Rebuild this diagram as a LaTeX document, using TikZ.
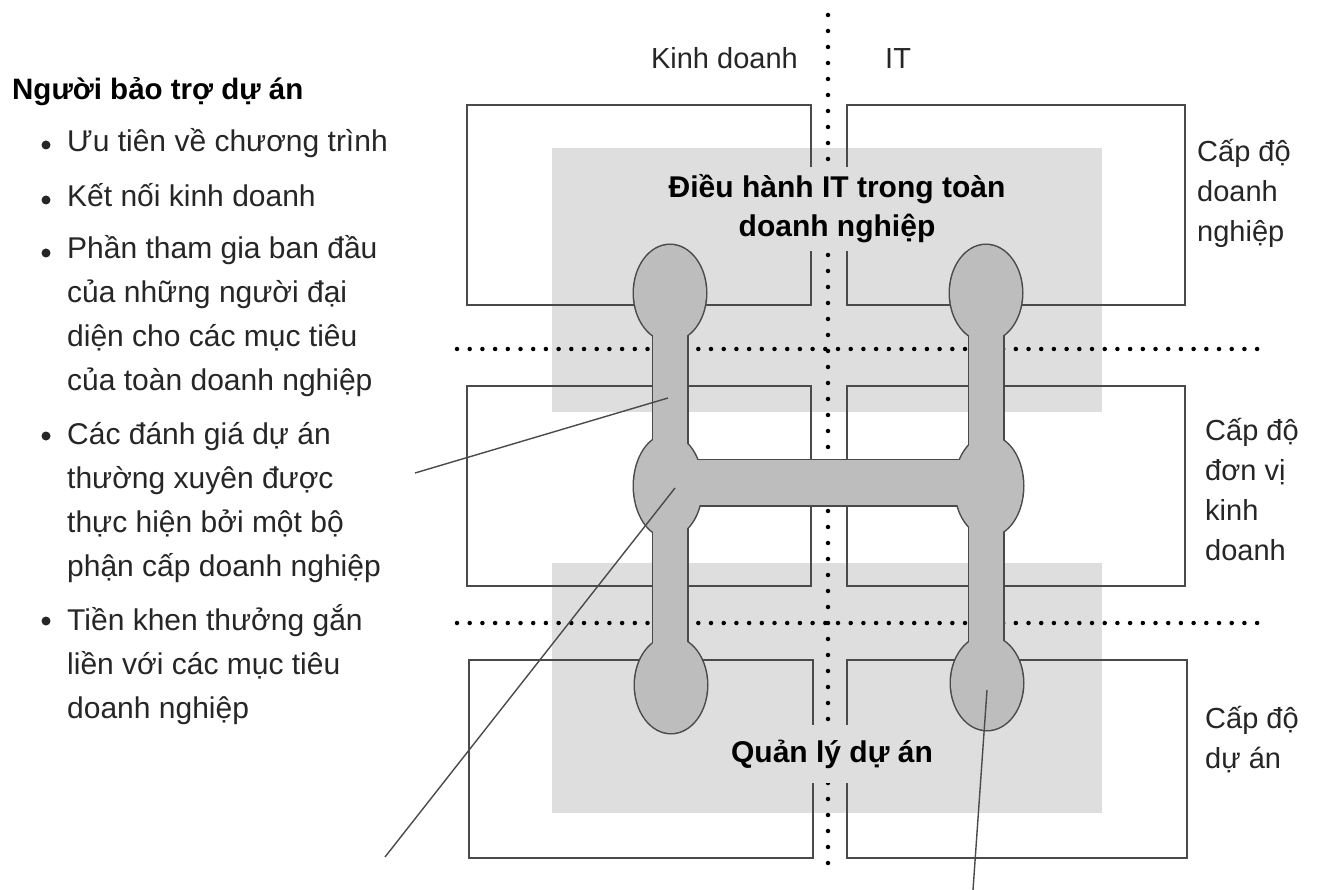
\documentclass[tikz,border=0pt]{standalone}
\usepackage{fontspec}
\setmainfont{Liberation Sans}
\usetikzlibrary{positioning}

\definecolor{bandgray}{HTML}{DEDEDE}
\definecolor{bonegray}{HTML}{BDBDBD}
\definecolor{edgegray}{HTML}{4A4A4A}

\tikzset{
  cell/.style={draw=edgegray, line width=1.5pt},
  dotrow/.style={line width=4.5pt, line cap=round, dash pattern=on 0pt off 12.7pt},
  dotcol/.style={line width=4.5pt, line cap=round, dash pattern=on 0pt off 16pt},
  listtext/.style={anchor=base west, align=left, inner sep=0pt, text=black!85,
    font=\fontsize{30}{44}\selectfont},
  sidetext/.style={anchor=base west, align=left, inner sep=0pt, text=black!85,
    font=\fontsize{29}{40}\selectfont},
  bandtext/.style={align=center, fill=bandgray, inner sep=4pt,
    font=\fontsize{30}{39}\selectfont\bfseries},
  leader/.style={draw=edgegray, line width=1.4pt}
}

% the two dumbbells and their cross bar
\newcommand\bones[1]{%
  \path[#1] (653,293) rectangle (687,685);
  \path[#1] (969,293) rectangle (1003,683);
  \path[#1] (668,460) rectangle (989,505);
  \path[#1] (670,293) ellipse [x radius=36, y radius=48];
  \path[#1] (668,486) ellipse [x radius=34, y radius=51];
  \path[#1] (671,685) ellipse [x radius=36, y radius=48];
  \path[#1] (986,293) ellipse [x radius=36, y radius=48];
  \path[#1] (989,486) ellipse [x radius=34, y radius=50];
  \path[#1] (987,683) ellipse [x radius=36, y radius=47];
}

\begin{document}
\begin{tikzpicture}[x=1pt, y=-1pt]
    %%%%% START %%%%%
    \useasboundingbox[fill=white] (0,0) rectangle (1317,890);

    % shaded bands
    \fill[bandgray] (552,148) rectangle (1102,412);
    \fill[bandgray] (552,563) rectangle (1102,813);

    % cells
    \draw[cell] (467,105) rectangle (811,305);
    \draw[cell] (847,105) rectangle (1185,305);
    \draw[cell] (467,386) rectangle (811,586);
    \draw[cell] (847,386) rectangle (1185,586);
    \draw[cell] (469,660) rectangle (813,858);
    \draw[cell] (847,660) rectangle (1187,858);

    % dotted separators
    \draw[dotrow] (457,349) -- (1268,349);
    \draw[dotrow] (457,623) -- (1268,623);
    \draw[dotcol] (828,15) -- (828,866);

    % band titles
    \node[bandtext, inner ysep=8pt] (enterprise) at (837,209) {Điều hành IT trong toàn\\doanh nghiệp};
    \node[bandtext, inner ysep=15pt] (project) at (832,754) {Quản lý dự án};

    % dumbbells
    \bones{draw=edgegray, line width=3pt}
    \bones{fill=bonegray}

    % leader lines
    \coordinate (lead1a) at (415,473);
    \coordinate (lead1b) at (668,398);
    \coordinate (lead2a) at (385,857);
    \coordinate (lead2b) at (675,488);
    \coordinate (lead3a) at (973,890);
    \coordinate (lead3b) at (987,690);
    \draw[leader] (lead1a) -- (lead1b);
    \draw[leader] (lead2a) -- (lead2b);
    \draw[leader] (lead3a) -- (lead3b);

    % column heads
    \node[sidetext, anchor=base east] (business) at (798,69) {Kinh doanh};
    \node[sidetext] (it) at (885,69) {IT};

    % level labels (base = last line)
    \node[sidetext] (lvl1) at (1197,242) {Cấp độ\\doanh\\nghiệp};
    \node[sidetext] (lvl2) at (1205,560) {Cấp độ\\đơn vị\\kinh\\doanh};
    \node[sidetext] (lvl3) at (1205,768) {Cấp độ\\dự án};

    % sponsor list (base = last line)
    \node[listtext, font=\fontsize{29.5}{44}\selectfont\bfseries, text=black] (sponsor) at (12,100) {Người bảo trợ dự án};
    \fill[black!85] (46,145) circle (4.5);
    \node[listtext] (item1) at (67,152) {Ưu tiên về chương trình};
    \fill[black!85] (46,200) circle (4.5);
    \node[listtext] (item2) at (67,207) {Kết nối kinh doanh};
    \fill[black!85] (46,253) circle (4.5);
    \node[listtext] (item3) at (67,391) {Phần tham gia ban đầu\\của những người đại\\diện cho các mục tiêu\\của toàn doanh nghiệp};
    \fill[black!85] (46,436) circle (4.5);
    \node[listtext] (item4) at (67,576) {Các đánh giá dự án\\thường xuyên được\\thực hiện bởi một bộ\\phận cấp doanh nghiệp};
    \fill[black!85] (46,621) circle (4.5);
    \node[listtext] (item5) at (67,718) {Tiền khen thưởng gắn\\liền với các mục tiêu\\doanh nghiệp};

    %%%%% END %%%%%
\end{tikzpicture}
\end{document}
